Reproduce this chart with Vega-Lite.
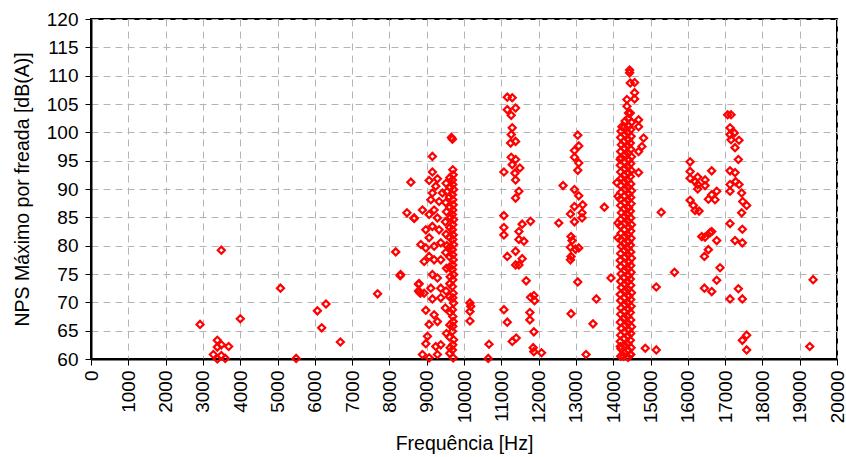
{
  "$schema": "https://vega.github.io/schema/vega-lite/v6.json",
  "width": 746,
  "height": 340,
  "autosize": "none",
  "padding": {"left": 91, "top": 19, "right": 9, "bottom": 98},
  "background": "white",
  "config": {
    "font": "Liberation Sans",
    "view": {"stroke": "black", "strokeWidth": 2},
    "axis": {
      "labelFont": "Liberation Sans", "titleFont": "Liberation Sans",
      "labelFontSize": 19, "titleFontSize": 19.5, "labelColor": "black", "titleColor": "black",
      "titleFontWeight": "normal", "domainColor": "black", "domainWidth": 2,
      "tickColor": "black", "tickSize": 6, "tickWidth": 1,
      "gridColor": "#b4b4b4", "gridDash": [7, 5], "gridWidth": 1
    }
  },
  "data": {"values": [
    {"f":2923,"n":66.1},{"f":3387,"n":63.3},{"f":3387,"n":62.1},{"f":3494,"n":62.5},{"f":3690,"n":62.2},{"f":3280,"n":60.8},{"f":3494,"n":60.6},{"f":3387,"n":60.0},{"f":3600,"n":60.1},{"f":3494,"n":79.2},{"f":4003,"n":67.1},{"f":5080,"n":72.5},{"f":5500,"n":60.1},{"f":6070,"n":68.5},{"f":6300,"n":69.7},{"f":6185,"n":65.5},{"f":6685,"n":63.0},{"f":7683,"n":71.5},{"f":8170,"n":78.9},{"f":8290,"n":74.7},{"f":8300,"n":74.9},{"f":8780,"n":73.2},{"f":8780,"n":72.0},{"f":8830,"n":71.6},{"f":8575,"n":91.2},{"f":8470,"n":85.8},{"f":8665,"n":84.8},
    {"f":9153,"n":95.75},{"f":9153,"n":93.0},{"f":9065,"n":91.5},{"f":9288,"n":91.8},{"f":9243,"n":90.5},{"f":9421,"n":89.3},{"f":9153,"n":89.3},{"f":9110,"n":88.1},{"f":9332,"n":87.8},{"f":9199,"n":86.3},{"f":8886,"n":86.3},{"f":9065,"n":85.5},{"f":9288,"n":84.9},{"f":8664,"n":84.9},{"f":8976,"n":82.8},{"f":9153,"n":83.4},{"f":9332,"n":82.8},{"f":9065,"n":81.4},{"f":8843,"n":80.2},{"f":8976,"n":79.6},{"f":9199,"n":79.9},{"f":9377,"n":80.5},{"f":9065,"n":78.1},{"f":8931,"n":77.2},{"f":9199,"n":77.5},{"f":9377,"n":77.5},{"f":9153,"n":74.9},{"f":9288,"n":74.3},{"f":8797,"n":73.3},{"f":8797,"n":71.9},{"f":8931,"n":71.6},{"f":9110,"n":72.5},{"f":9377,"n":72.5},{"f":9153,"n":70.6},{"f":9377,"n":70.8},{"f":8976,"n":68.6},{"f":9199,"n":67.8},{"f":9288,"n":66.6},{"f":9065,"n":66.1},{"f":9020,"n":64.0},{"f":9377,"n":62.5},{"f":9243,"n":62.2},{"f":8976,"n":62.7},{"f":8886,"n":60.8},{"f":9065,"n":60.2},{"f":9288,"n":60.8},
    {"f":9662,"n":99.1},{"f":9690,"n":98.8},
    {"f":9700,"n":93.4},{"f":9710,"n":92.5},{"f":9690,"n":91.6},{"f":9700,"n":90.8},{"f":9720,"n":89.9},{"f":9690,"n":89.0},{"f":9700,"n":88.1},{"f":9710,"n":87.2},{"f":9700,"n":86.3},{"f":9690,"n":85.5},{"f":9720,"n":84.6},{"f":9700,"n":83.7},{"f":9690,"n":82.8},{"f":9710,"n":81.9},{"f":9700,"n":81.1},{"f":9720,"n":80.2},{"f":9690,"n":79.3},{"f":9700,"n":78.4},{"f":9710,"n":77.5},{"f":9700,"n":76.6},{"f":9690,"n":75.8},{"f":9720,"n":74.9},{"f":9700,"n":74.0},{"f":9690,"n":72.8},{"f":9710,"n":71.6},{"f":9700,"n":70.8},{"f":9720,"n":69.9},{"f":9690,"n":68.7},{"f":9700,"n":67.5},{"f":9710,"n":66.6},{"f":9700,"n":65.8},{"f":9690,"n":64.9},{"f":9720,"n":63.4},{"f":9700,"n":62.5},{"f":9690,"n":61.6},{"f":9710,"n":60.2},
    {"f":9620,"n":92.0},{"f":9630,"n":90.3},{"f":9610,"n":88.6},{"f":9620,"n":86.8},{"f":9640,"n":85.0},{"f":9620,"n":83.2},{"f":9610,"n":81.5},{"f":9630,"n":79.8},{"f":9620,"n":78.0},{"f":9610,"n":76.2},{"f":9630,"n":74.5},{"f":9620,"n":73.3},{"f":9610,"n":71.0},{"f":9630,"n":68.2},{"f":9620,"n":66.0},{"f":9610,"n":63.9},{"f":9630,"n":62.0},{"f":9620,"n":61.0},
    {"f":9520,"n":91.0},{"f":9540,"n":89.5},{"f":9510,"n":87.6},{"f":9530,"n":86.0},{"f":9500,"n":84.2},{"f":9520,"n":82.0},{"f":9540,"n":80.0},{"f":9510,"n":78.8},{"f":9530,"n":76.0},{"f":9520,"n":72.0},{"f":9500,"n":69.0},{"f":9530,"n":64.5},
    {"f":10160,"n":69.9},{"f":10180,"n":69.3},{"f":10160,"n":68.4},{"f":10160,"n":66.7},{"f":10670,"n":62.6},{"f":10650,"n":60.1},
    {"f":11160,"n":106.2},{"f":11293,"n":106.1},{"f":11160,"n":104.0},{"f":11383,"n":104.3},{"f":11266,"n":103.0},{"f":11293,"n":100.8},{"f":11266,"n":99.6},{"f":11383,"n":98.4},{"f":11249,"n":98.1},{"f":11266,"n":95.6},{"f":11383,"n":95.2},{"f":11293,"n":94.3},{"f":11498,"n":93.7},{"f":11070,"n":93.0},{"f":11365,"n":92.8},{"f":11383,"n":91.6},{"f":11472,"n":89.6},{"f":11383,"n":88.4},{"f":12656,"n":90.6},{"f":11070,"n":85.3},{"f":11070,"n":83.2},{"f":11070,"n":81.9},{"f":11560,"n":83.8},{"f":11784,"n":84.3},{"f":11472,"n":82.5},{"f":11605,"n":80.8},{"f":11472,"n":81.1},{"f":12541,"n":84.0},{"f":11160,"n":78.1},{"f":11383,"n":79.0},{"f":11560,"n":77.7},{"f":11472,"n":76.6},{"f":11383,"n":76.6},{"f":11667,"n":73.8},{"f":11784,"n":70.9},{"f":11873,"n":71.2},{"f":11891,"n":70.3},{"f":11070,"n":68.7},{"f":11766,"n":68.2},{"f":11160,"n":66.5},{"f":11766,"n":66.9},{"f":11873,"n":64.8},{"f":11293,"n":63.1},{"f":11400,"n":63.7},{"f":11855,"n":62.0},{"f":11873,"n":61.3},{"f":12079,"n":61.1},
    {"f":13050,"n":99.5},{"f":13076,"n":97.6},{"f":12961,"n":96.8},{"f":12961,"n":95.6},{"f":13076,"n":94.6},{"f":13050,"n":93.3},{"f":12961,"n":89.9},{"f":13076,"n":88.8},{"f":13183,"n":87.2},{"f":12961,"n":86.9},{"f":13763,"n":86.8},{"f":13165,"n":85.8},{"f":12854,"n":85.6},{"f":13165,"n":84.9},{"f":12961,"n":84.2},{"f":12870,"n":81.6},{"f":12897,"n":80.9},{"f":13076,"n":79.6},{"f":12854,"n":79.7},{"f":12988,"n":79.4},{"f":12870,"n":78.1},{"f":12854,"n":77.5},{"f":13050,"n":73.6},{"f":13940,"n":74.3},{"f":13548,"n":70.6},{"f":12870,"n":68.0},{"f":13459,"n":66.2},{"f":13272,"n":60.8},
    {"f":14440,"n":111.0},{"f":14440,"n":110.5},{"f":14458,"n":108.7},{"f":14573,"n":108.8},{"f":14573,"n":107.0},{"f":14573,"n":105.9},{"f":14368,"n":105.8},{"f":14368,"n":104.6},{"f":14458,"n":103.4},{"f":14680,"n":102.2},{"f":14680,"n":101.0},{"f":14814,"n":99.0},{"f":14770,"n":97.5},{"f":14680,"n":96.6},{"f":14680,"n":92.9},{"f":14234,"n":101.0},{"f":14190,"n":95.2},{"f":14100,"n":91.1},{"f":14127,"n":88.7},{"f":14127,"n":84.0},{"f":14127,"n":81.4},{"f":14190,"n":62.2},{"f":14280,"n":60.5},{"f":14458,"n":60.8},{"f":14860,"n":61.9},{"f":15155,"n":61.6},{"f":15155,"n":72.7},{"f":15643,"n":75.3},{"f":15288,"n":85.9},
    {"f":14200,"n":60.5},{"f":14210,"n":61.8},{"f":14190,"n":63.1},{"f":14200,"n":64.2},{"f":14220,"n":65.4},{"f":14190,"n":66.5},{"f":14200,"n":67.9},{"f":14210,"n":69.0},{"f":14200,"n":70.3},{"f":14190,"n":71.4},{"f":14220,"n":72.6},{"f":14200,"n":73.7},{"f":14210,"n":75.0},{"f":14200,"n":76.3},{"f":14190,"n":77.4},{"f":14200,"n":78.6},{"f":14220,"n":79.9},{"f":14200,"n":81.0},{"f":14210,"n":82.2},{"f":14190,"n":83.5},{"f":14200,"n":84.6},{"f":14220,"n":85.8},{"f":14200,"n":87.1},{"f":14190,"n":88.2},{"f":14210,"n":89.4},{"f":14200,"n":90.6},{"f":14220,"n":91.9},{"f":14200,"n":93.0},{"f":14190,"n":94.2},{"f":14210,"n":95.5},{"f":14200,"n":96.6},{"f":14220,"n":97.8},{"f":14200,"n":99.1},{"f":14210,"n":100.2},
    {"f":14300,"n":61.1},{"f":14310,"n":62.4},{"f":14290,"n":63.6},{"f":14300,"n":64.8},{"f":14320,"n":66.0},{"f":14300,"n":67.3},{"f":14290,"n":68.4},{"f":14310,"n":69.6},{"f":14300,"n":70.8},{"f":14320,"n":72.1},{"f":14300,"n":73.2},{"f":14290,"n":74.4},{"f":14310,"n":75.6},{"f":14300,"n":76.9},{"f":14320,"n":78.0},{"f":14300,"n":79.2},{"f":14290,"n":80.4},{"f":14310,"n":81.7},{"f":14300,"n":82.8},{"f":14320,"n":84.0},{"f":14300,"n":85.2},{"f":14290,"n":86.5},{"f":14310,"n":87.6},{"f":14300,"n":88.8},{"f":14320,"n":90.0},{"f":14300,"n":91.3},{"f":14290,"n":92.4},{"f":14310,"n":93.6},{"f":14300,"n":94.8},{"f":14320,"n":96.1},{"f":14300,"n":97.2},{"f":14290,"n":98.4},{"f":14310,"n":99.6},{"f":14300,"n":100.9},{"f":14320,"n":102.0},
    {"f":14400,"n":60.3},{"f":14410,"n":61.5},{"f":14390,"n":62.7},{"f":14400,"n":64.0},{"f":14420,"n":65.1},{"f":14400,"n":66.3},{"f":14390,"n":67.5},{"f":14410,"n":68.8},{"f":14400,"n":69.9},{"f":14420,"n":71.1},{"f":14400,"n":72.3},{"f":14390,"n":73.6},{"f":14410,"n":74.7},{"f":14400,"n":75.9},{"f":14420,"n":77.1},{"f":14400,"n":78.4},{"f":14390,"n":79.5},{"f":14410,"n":80.7},{"f":14400,"n":81.9},{"f":14420,"n":83.2},{"f":14400,"n":84.3},{"f":14390,"n":85.5},{"f":14410,"n":86.7},{"f":14400,"n":88.0},{"f":14420,"n":89.1},{"f":14400,"n":90.3},{"f":14390,"n":91.5},{"f":14410,"n":92.8},{"f":14400,"n":93.9},{"f":14420,"n":95.1},{"f":14400,"n":96.3},{"f":14390,"n":97.6},{"f":14410,"n":98.7},{"f":14400,"n":99.9},{"f":14420,"n":101.1},{"f":14400,"n":102.4},{"f":14410,"n":103.4},
    {"f":14470,"n":60.8},{"f":14480,"n":62.0},{"f":14460,"n":63.3},{"f":14470,"n":64.5},{"f":14490,"n":65.7},{"f":14470,"n":66.9},{"f":14460,"n":68.2},{"f":14480,"n":69.3},{"f":14470,"n":70.5},{"f":14490,"n":71.7},{"f":14470,"n":73.0},{"f":14460,"n":74.1},{"f":14480,"n":75.3},{"f":14470,"n":76.5},{"f":14490,"n":77.8},{"f":14470,"n":78.9},{"f":14460,"n":80.1},{"f":14480,"n":81.3},{"f":14470,"n":82.6},{"f":14490,"n":83.7},{"f":14470,"n":84.9},{"f":14460,"n":86.1},{"f":14480,"n":87.4},{"f":14470,"n":88.5},{"f":14490,"n":89.7},{"f":14470,"n":90.9},{"f":14460,"n":92.2},{"f":14480,"n":93.3},{"f":14470,"n":94.5},{"f":14490,"n":95.7},{"f":14470,"n":97.0},{"f":14460,"n":98.1},{"f":14480,"n":99.3},{"f":14470,"n":100.5},{"f":14490,"n":101.8},
    {"f":17068,"n":103.1},{"f":17159,"n":103.1},{"f":17132,"n":100.8},{"f":17247,"n":99.9},{"f":17132,"n":99.6},{"f":17159,"n":98.7},{"f":17373,"n":98.6},{"f":17266,"n":97.3},{"f":17355,"n":95.2},{"f":16062,"n":94.8},{"f":16640,"n":93.2},{"f":16062,"n":93.1},{"f":17132,"n":93.2},{"f":17266,"n":92.9},{"f":16062,"n":91.9},{"f":16266,"n":92.1},{"f":16463,"n":91.6},{"f":16195,"n":91.3},{"f":16266,"n":90.8},{"f":16463,"n":90.6},{"f":17283,"n":91.3},{"f":17132,"n":90.8},{"f":17373,"n":90.8},{"f":16266,"n":90.0},{"f":17132,"n":89.6},{"f":16775,"n":89.6},{"f":16641,"n":89.0},{"f":17444,"n":89.3},{"f":16552,"n":88.2},{"f":16730,"n":88.1},{"f":17471,"n":87.8},{"f":16062,"n":88.0},{"f":17578,"n":87.1},{"f":16150,"n":87.1},{"f":16195,"n":86.2},{"f":16302,"n":86.1},{"f":17444,"n":85.8},{"f":17132,"n":83.9},{"f":17462,"n":82.9},{"f":16374,"n":81.6},{"f":16597,"n":82.3},{"f":16641,"n":82.5},{"f":16463,"n":81.5},{"f":16775,"n":80.9},{"f":17266,"n":80.9},{"f":17462,"n":80.5},{"f":16552,"n":79.3},{"f":16445,"n":78.1},{"f":16864,"n":76.1},{"f":16775,"n":73.9},{"f":16445,"n":72.5},{"f":16641,"n":71.9},{"f":17355,"n":72.4},{"f":17132,"n":70.6},{"f":17462,"n":70.6},{"f":17578,"n":64.2},{"f":17462,"n":63.3},{"f":17578,"n":61.6},
    {"f":19360,"n":74.0},{"f":19270,"n":62.2}
  ]},
  "mark": {"type": "point", "shape": "diamond", "size": 50, "filled": false, "stroke": "#ff0000", "strokeWidth": 2.2, "opacity": 1},
  "encoding": {
    "x": {"field": "f", "type": "quantitative", "title": "Frequência [Hz]",
      "scale": {"domain": [0, 20000], "nice": false, "zero": false},
      "axis": {"values": [0,1000,2000,3000,4000,5000,6000,7000,8000,9000,10000,11000,12000,13000,14000,15000,16000,17000,18000,19000,20000], "format": "d", "labelAngle": 270, "labelPadding": 5, "titlePadding": 12, "labelFlush": false, "labelOverlap": false}},
    "y": {"field": "n", "type": "quantitative", "title": "NPS Máximo por freada [dB(A)]",
      "scale": {"domain": [60, 120], "nice": false, "zero": false},
      "axis": {"values": [60,65,70,75,80,85,90,95,100,105,110,115,120], "labelPadding": 7, "titlePadding": 14, "labelFlush": false, "labelOverlap": false}}
  }
}
